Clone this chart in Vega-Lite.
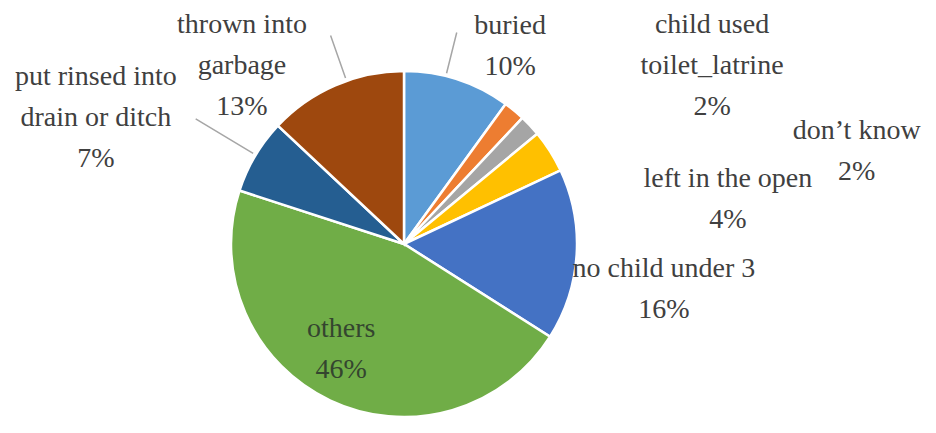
{
  "$schema": "https://vega.github.io/schema/vega-lite/v6.json",
  "autosize": "none",
  "width": 808,
  "height": 378,
  "padding": {"left": 0, "top": 55, "right": 128, "bottom": 0},
  "background": "white",
  "config": {"view": {"stroke": null}},
  "data": {
    "values": [
      {"idx": 1, "category": "buried", "value": 10, "display": "buried\n10%"},
      {"idx": 2, "category": "child used toilet_latrine", "value": 2, "display": "child used\ntoilet_latrine\n2%"},
      {"idx": 3, "category": "don’t know", "value": 2, "display": "don’t know\n2%"},
      {"idx": 4, "category": "left in the open", "value": 4, "display": "left in the open\n4%"},
      {"idx": 5, "category": "no child under 3", "value": 16, "display": "no child under 3\n16%"},
      {"idx": 6, "category": "others", "value": 46, "display": "others\n46%"},
      {"idx": 7, "category": "put rinsed into drain or ditch", "value": 7, "display": "put rinsed into\ndrain or ditch\n7%"},
      {"idx": 8, "category": "thrown into garbage", "value": 13, "display": "thrown into\ngarbage\n13%"}
    ]
  },
  "encoding": {
    "theta": {"field": "value", "type": "quantitative", "stack": true},
    "order": {"field": "idx", "type": "quantitative", "sort": "ascending"}
  },
  "layer": [
    {
      "mark": {"type": "arc", "radius": 173, "stroke": "white", "strokeWidth": 2.5},
      "encoding": {
        "color": {
          "field": "category", "type": "nominal", "legend": null,
          "scale": {
            "domain": ["buried", "child used toilet_latrine", "don’t know", "left in the open", "no child under 3", "others", "put rinsed into drain or ditch", "thrown into garbage"],
            "range": ["#5B9BD5", "#ED7D31", "#A5A5A5", "#FFC000", "#4472C4", "#70AD47", "#255E91", "#9E480E"]
          }
        }
      }
    },
    {
      "transform": [
        {"stack": "value", "groupby": [], "sort": [{"field": "idx", "order": "ascending"}], "as": ["s0", "s1"]},
        {"filter": "datum.idx === 1"}
      ],
      "mark": {"type": "arc", "radius": 218, "radius2": 176, "thetaOffset": 0.2443, "theta2Offset": 0.2443, "fillOpacity": 0, "stroke": "#a6a6a6", "strokeWidth": 1.5},
      "encoding": {
        "theta": {"field": "s0", "type": "quantitative"},
        "theta2": {"field": "s0"}
      }
    },
    {
      "transform": [
        {"stack": "value", "groupby": [], "sort": [{"field": "idx", "order": "ascending"}], "as": ["s0", "s1"]},
        {"filter": "datum.idx === 8"}
      ],
      "mark": {"type": "arc", "radius": 221, "radius2": 176, "thetaOffset": 0.4782, "theta2Offset": 0.4782, "fillOpacity": 0, "stroke": "#a6a6a6", "strokeWidth": 1.5},
      "encoding": {
        "theta": {"field": "s0", "type": "quantitative"},
        "theta2": {"field": "s0"}
      }
    },
    {
      "transform": [
        {"stack": "value", "groupby": [], "sort": [{"field": "idx", "order": "ascending"}], "as": ["s0", "s1"]},
        {"filter": "datum.idx === 7"}
      ],
      "mark": {"type": "arc", "radius": 243, "radius2": 176, "thetaOffset": 0.2269, "theta2Offset": 0.2269, "fillOpacity": 0, "stroke": "#a6a6a6", "strokeWidth": 1.5},
      "encoding": {
        "theta": {"field": "s0", "type": "quantitative"},
        "theta2": {"field": "s0"}
      }
    },
    {
      "mark": {"type": "text", "radius": 224.6, "thetaOffset": 0.178, "dy": -20.5, "font": "Liberation Serif", "fontSize": 28, "lineHeight": 41, "lineBreak": "\n", "align": "center", "baseline": "middle", "fill": "#404040"},
      "encoding": {"text": {"condition": {"test": "datum.idx === 1", "field": "display", "type": "nominal"}, "value": ""}}
    },
    {
      "mark": {"type": "text", "radius": 355.7, "thetaOffset": 0.356, "dy": -41, "font": "Liberation Serif", "fontSize": 28, "lineHeight": 41, "lineBreak": "\n", "align": "center", "baseline": "middle", "fill": "#404040"},
      "encoding": {"text": {"condition": {"test": "datum.idx === 2", "field": "display", "type": "nominal"}, "value": ""}}
    },
    {
      "mark": {"type": "text", "radius": 462, "thetaOffset": 0.553, "dy": -20.5, "font": "Liberation Serif", "fontSize": 28, "lineHeight": 41, "lineBreak": "\n", "align": "center", "baseline": "middle", "fill": "#404040"},
      "encoding": {"text": {"condition": {"test": "datum.idx === 3", "field": "display", "type": "nominal"}, "value": ""}}
    },
    {
      "mark": {"type": "text", "radius": 327, "thetaOffset": 0.428, "dy": -20.5, "font": "Liberation Serif", "fontSize": 28, "lineHeight": 41, "lineBreak": "\n", "align": "center", "baseline": "middle", "fill": "#404040"},
      "encoding": {"text": {"condition": {"test": "datum.idx === 4", "field": "display", "type": "nominal"}, "value": ""}}
    },
    {
      "mark": {"type": "text", "radius": 264, "thetaOffset": 0.112, "dy": -20.5, "font": "Liberation Serif", "fontSize": 28, "lineHeight": 41, "lineBreak": "\n", "align": "center", "baseline": "middle", "fill": "#404040"},
      "encoding": {"text": {"condition": {"test": "datum.idx === 5", "field": "display", "type": "nominal"}, "value": ""}}
    },
    {
      "mark": {"type": "text", "radius": 123, "thetaOffset": 0.096, "dy": -20.5, "font": "Liberation Serif", "fontSize": 28, "lineHeight": 41, "lineBreak": "\n", "align": "center", "baseline": "middle", "fill": "#34452f"},
      "encoding": {"text": {"condition": {"test": "datum.idx === 6", "field": "display", "type": "nominal"}, "value": ""}}
    },
    {
      "mark": {"type": "text", "radius": 332.8, "thetaOffset": -0.147, "dy": -41, "font": "Liberation Serif", "fontSize": 28, "lineHeight": 41, "lineBreak": "\n", "align": "center", "baseline": "middle", "fill": "#404040"},
      "encoding": {"text": {"condition": {"test": "datum.idx === 7", "field": "display", "type": "nominal"}, "value": ""}}
    },
    {
      "mark": {"type": "text", "radius": 240.7, "thetaOffset": -0.33, "dy": -41, "font": "Liberation Serif", "fontSize": 28, "lineHeight": 41, "lineBreak": "\n", "align": "center", "baseline": "middle", "fill": "#404040"},
      "encoding": {"text": {"condition": {"test": "datum.idx === 8", "field": "display", "type": "nominal"}, "value": ""}}
    }
  ]
}
